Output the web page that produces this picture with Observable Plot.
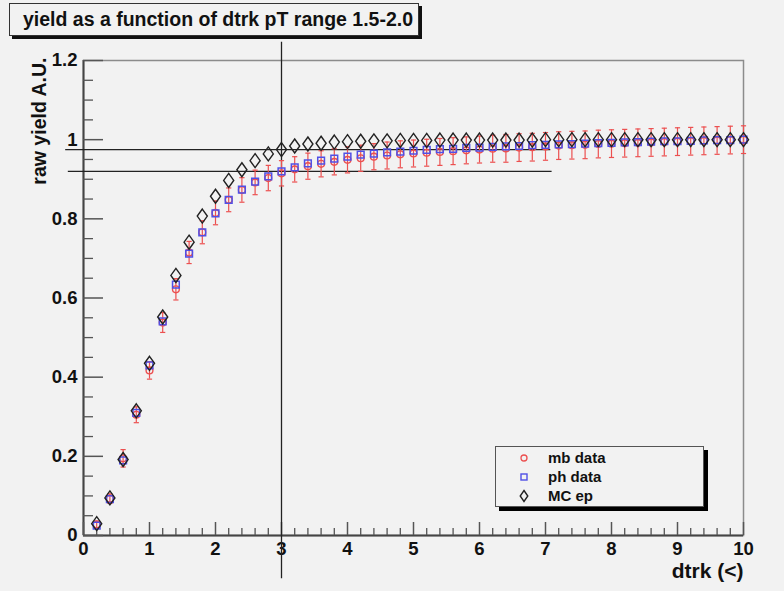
<!DOCTYPE html>
<html>
<head>
<meta charset="utf-8">
<script src="https://cdn.jsdelivr.net/npm/d3@7"></script>
<script src="https://cdn.jsdelivr.net/npm/@observablehq/plot@0.6"></script>
<style>
  html, body { margin: 0; padding: 0; background: #f2f2f2; }
  #wrap { position: relative; width: 784px; height: 591px; background: #f2f2f2; font-family: "Liberation Sans", Arial, Helvetica, sans-serif; overflow: hidden; }
  #title { position: absolute; left: 9px; top: 3px; width: 400px; height: 31px; border: 1.5px solid #333; box-shadow: 3px 3px 0 #111; background: #f2f2f2; font-weight: bold; font-size: 19.5px; line-height: 31px; text-align: center; padding-left: 8px; box-sizing: content-box; color: #111; white-space: nowrap; }
  #legend { position: absolute; left: 495px; top: 446px; width: 207px; height: 59px; border: 1px solid #555; box-shadow: 4px 4px 0 #000; background: #f2f2f2; }
  .row { position: absolute; left: 0; height: 19px; width: 100%; font-weight: bold; font-size: 15px; color: #111; }
  .row svg { position: absolute; left: 20px; top: 0; }
  .row span { position: absolute; left: 52px; top: 0; line-height: 19px; }
  #plot { position: absolute; left: 0; top: 0; }
</style>
</head>
<body>
<div id="wrap">
  <div id="plot"></div>
  <div id="title"></div>
  <div id="legend"></div>
</div>
<script>
// ---- data ----
const titleText = "yield as a function of dtrk pT range 1.5-2.0";
const xLabel = "dtrk (<)";
const yLabel = "raw yield A.U.";
const seriesNames = ["mb data", "ph data", "MC ep"];

const xs = [0.2,0.4,0.6,0.8,1.0,1.2,1.4,1.6,1.8,2.0,
            2.2,2.4,2.6,2.8,3.0,3.2,3.4,3.6,3.8,4.0,
            4.2,4.4,4.6,4.8,5.0,5.2,5.4,5.6,5.8,6.0,
            6.2,6.4,6.6,6.8,7.0,7.2,7.4,7.6,7.8,8.0,
            8.2,8.4,8.6,8.8,9.0,9.2,9.4,9.6,9.8,10.0];

const mbY = [0.028,0.093,0.195,0.305,0.417,0.538,0.622,0.715,0.766,0.815,
             0.848,0.873,0.892,0.903,0.915,0.925,0.933,0.939,0.944,0.949,
             0.953,0.957,0.960,0.963,0.965,0.967,0.969,0.971,0.973,0.975,
             0.977,0.978,0.980,0.981,0.983,0.985,0.986,0.987,0.989,0.990,
             0.991,0.992,0.993,0.994,0.995,0.996,0.997,0.998,0.999,1.000];

const mbErr = [0.008,0.012,0.022,0.020,0.022,0.025,0.027,0.028,0.029,0.030,
               0.030,0.031,0.031,0.032,0.032,0.032,0.033,0.033,0.033,0.033,
               0.033,0.033,0.034,0.034,0.034,0.034,0.034,0.034,0.034,0.034,
               0.034,0.035,0.035,0.035,0.035,0.035,0.035,0.035,0.035,0.035,
               0.035,0.035,0.035,0.035,0.035,0.035,0.035,0.035,0.035,0.035];

const phY = [0.025,0.092,0.190,0.310,0.430,0.541,0.634,0.712,0.766,0.814,
             0.848,0.874,0.894,0.907,0.920,0.930,0.940,0.947,0.952,0.957,
             0.962,0.965,0.968,0.970,0.972,0.974,0.976,0.977,0.979,0.980,
             0.982,0.983,0.984,0.986,0.987,0.988,0.989,0.990,0.991,0.992,
             0.993,0.994,0.995,0.996,0.996,0.997,0.998,0.999,0.999,1.000];

const mcY = [0.030,0.095,0.192,0.315,0.435,0.552,0.657,0.741,0.807,0.857,
             0.897,0.924,0.947,0.964,0.975,0.984,0.989,0.991,0.994,0.995,
             0.996,0.997,0.997,0.998,0.998,0.998,0.999,0.999,0.999,0.999,
             0.999,0.999,0.999,0.999,1.000,1.000,1.000,1.000,1.000,1.000,
             1.000,1.000,1.000,1.000,1.000,1.000,1.000,1.000,1.000,1.000];

// reference lines drawn on the canvas
const hLineY  = [0.975, 0.920];
const hLineX1 = [-0.27, -0.23];
const hLineX2 = [7.08, 7.10];
const vLineX  = [3];
const vLineY1 = [-0.109];
const vLineY2 = [1.246];

const xTickVals = [0,1,2,3,4,5,6,7,8,9,10];
const xTickLabels = ["0","1","2","3","4","5","6","7","8","9","10"];
const yTickVals = [0,0.2,0.4,0.6,0.8,1.0,1.2];
const yTickLabels = ["0","0.2","0.4","0.6","0.8","1","1.2"];

// ---- build ----
const red = "#ec5050", blue = "#5050e6", black = "#222";
const mb = xs.map((x, i) => ({x, y: mbY[i], e: mbErr[i]}));
const ph = xs.map((x, i) => ({x, y: phY[i]}));
const mc = xs.map((x, i) => ({x, y: mcY[i]}));
const hLines = hLineY.map((y, i) => ({y, x1: hLineX1[i], x2: hLineX2[i]}));
const vLines = vLineX.map((x, i) => ({x, y1: vLineY1[i], y2: vLineY2[i]}));
const xMinor = d3.range(0, 10.001, 0.2).map(v => +v.toFixed(1)).filter(v => !xTickVals.includes(v));
const yMinor = d3.range(0, 1.2001, 0.05).map(v => +v.toFixed(2)).filter(v => !yTickVals.includes(v));

const W = 784, H = 591, mL = 83, mR = 41, mT = 60, mB = 56;
const pW = W - mL - mR, pH = H - mT - mB;

const capSymbol = { draw(ctx, size) { const r = Math.sqrt(size / Math.PI); ctx.moveTo(-r, 0); ctx.lineTo(r, 0); } };
const diamondSymbol = { draw(ctx, size) { const r = Math.sqrt(size / Math.PI); const w = r * 0.72; ctx.moveTo(0, -r); ctx.lineTo(w, 0); ctx.lineTo(0, r); ctx.lineTo(-w, 0); ctx.closePath(); } };

const fontFamily = '"Liberation Sans", Arial, Helvetica, sans-serif';

const chart = Plot.plot({
  width: W, height: H,
  marginLeft: mL, marginRight: mR, marginTop: mT, marginBottom: mB,
  style: {background: "#f2f2f2", fontFamily, color: "#111"},
  x: {domain: [0, 10], axis: null},
  y: {domain: [0, 1.2], axis: null},
  marks: [
    Plot.frame({stroke: "#8c8c8c", strokeWidth: 1.5}),
    Plot.ruleY([0], {stroke: "#444", strokeWidth: 2}),
    Plot.ruleX([0], {stroke: "#444", strokeWidth: 2}),
    Plot.ruleX(xTickVals, {stroke: "#555", strokeWidth: 1.5, insetTop: pH - 13}),
    Plot.ruleX(xMinor, {stroke: "#555", strokeWidth: 1.3, insetTop: pH - 7}),
    Plot.ruleY(yTickVals, {stroke: "#555", strokeWidth: 1.5, insetRight: pW - 20}),
    Plot.ruleY(yMinor, {stroke: "#555", strokeWidth: 1.3, insetRight: pW - 10}),
    Plot.axisX({ticks: xTickVals, tickSize: 0, tickPadding: 6, tickFormat: (d, i) => xTickLabels[i], fontSize: 18.5, fontWeight: "bold", label: null}),
    Plot.axisY({ticks: yTickVals, tickSize: 0, tickPadding: 6, tickFormat: (d, i) => yTickLabels[i], fontSize: 18.5, fontWeight: "bold", label: null}),
    Plot.text([yLabel], {frameAnchor: "top-left", rotate: -90, textAnchor: "end", dx: -51, dy: -3, fontSize: 19.5, fontWeight: "bold"}),
    Plot.text([xLabel], {frameAnchor: "bottom-right", textAnchor: "end", dy: 42, fontSize: 21, fontWeight: "bold"}),
    Plot.ruleY(hLines, {y: "y", x1: "x1", x2: "x2", stroke: "#222", strokeWidth: 1.3}),
    Plot.ruleX(vLines, {x: "x", y1: "y1", y2: "y2", stroke: "#222", strokeWidth: 1.3}),
    Plot.ruleX(mb, {x: "x", y1: d => d.y - d.e, y2: d => d.y + d.e, stroke: red, strokeWidth: 1.2}),
    Plot.dot(mb, {x: "x", y: d => d.y + d.e, symbol: capSymbol, r: 2.6, stroke: red, fill: "none", strokeWidth: 1.2}),
    Plot.dot(mb, {x: "x", y: d => d.y - d.e, symbol: capSymbol, r: 2.6, stroke: red, fill: "none", strokeWidth: 1.2}),
    Plot.dot(mb, {x: "x", y: "y", symbol: "circle", r: 3.4, stroke: red, fill: "none", strokeWidth: 1.4}),
    Plot.dot(ph, {x: "x", y: "y", symbol: "square", r: 3.8, stroke: blue, fill: "none", strokeWidth: 1.5}),
    Plot.dot(mc, {x: "x", y: "y", symbol: diamondSymbol, r: 7, stroke: black, fill: "none", strokeWidth: 1.4})
  ]
});
document.getElementById("plot").appendChild(chart);

document.getElementById("title").textContent = titleText;

// legend
const legend = document.getElementById("legend");
const legendMarkers = [
  `<svg width="18" height="19"><circle cx="8" cy="10" r="3" fill="none" stroke="${red}" stroke-width="1.3"/></svg>`,
  `<svg width="18" height="19"><rect x="5" y="7" width="6" height="6" fill="none" stroke="${blue}" stroke-width="1.4"/></svg>`,
  `<svg width="18" height="19"><path d="M8,4.5 L11.8,10 L8,15.5 L4.2,10 Z" fill="none" stroke="${black}" stroke-width="1.4"/></svg>`
];
seriesNames.forEach((name, i) => {
  const row = document.createElement("div");
  row.className = "row";
  row.style.top = (1 + i * 19) + "px";
  row.innerHTML = legendMarkers[i] + `<span>${name}</span>`;
  legend.appendChild(row);
});
</script>
</body>
</html>
